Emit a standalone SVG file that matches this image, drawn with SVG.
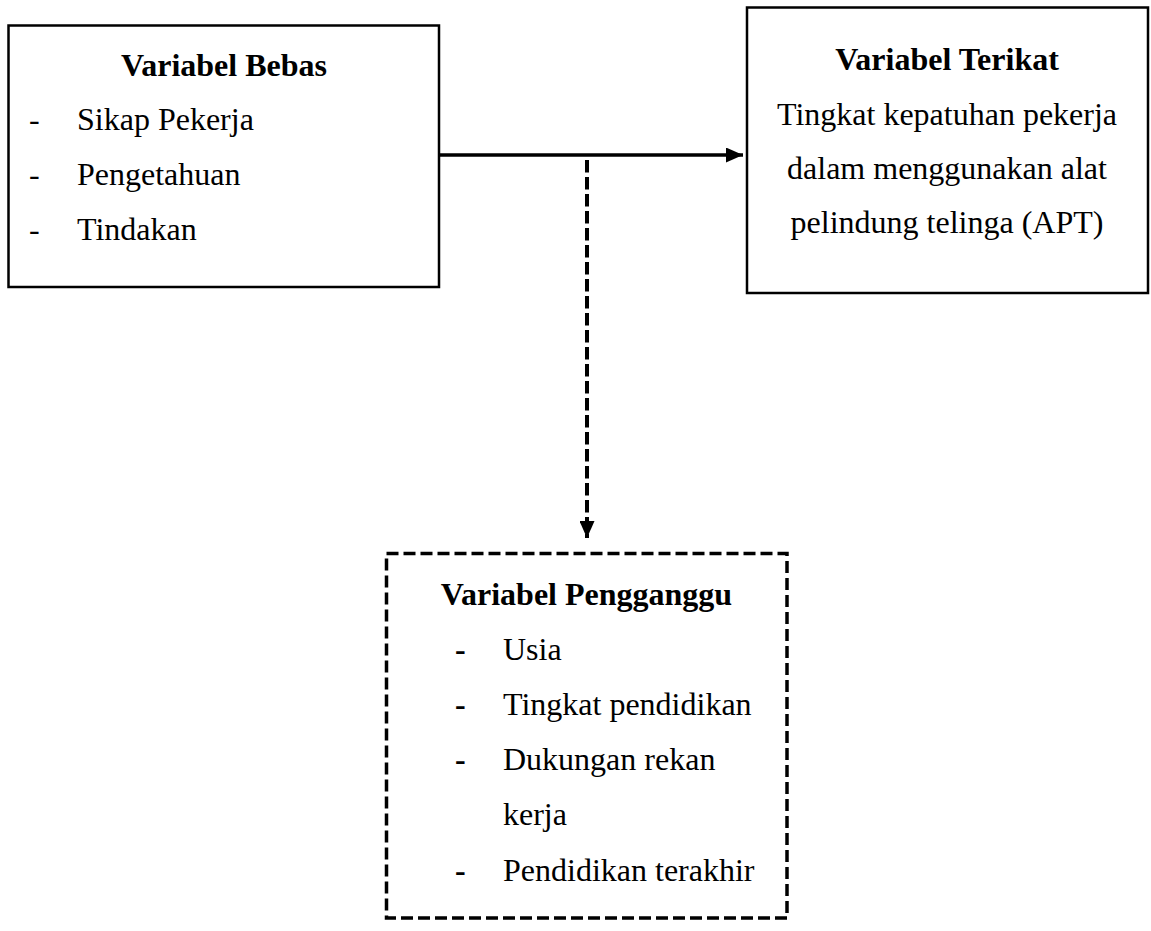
<svg xmlns="http://www.w3.org/2000/svg" width="1151" height="931" viewBox="0 0 1151 931">
<style>
text{font-family:"Liberation Serif","Times New Roman",serif;font-size:32px;fill:#000}
.b{font-weight:bold}
.m{text-anchor:middle}
.box{fill:#fff;stroke:#000;stroke-width:2.5}
.dbox{fill:#fff;stroke:#000;stroke-width:3.5;stroke-dasharray:12 5}
</style>
<defs>
<marker id="ah" viewBox="0 0 17 15" refX="17" refY="7.5" markerWidth="17" markerHeight="15" markerUnits="userSpaceOnUse" orient="auto">
<path d="M0,0 L17,7.5 L0,15 Z" fill="#000"/>
</marker>
</defs>
<g id="bebas">
<rect class="box" x="8.5" y="25.5" width="430.5" height="261.5"/>
<text class="b m" x="224" y="76">Variabel Bebas</text>
<text x="29" y="130">-</text><text x="77" y="130">Sikap Pekerja</text>
<text x="29" y="185">-</text><text x="77" y="185">Pengetahuan</text>
<text x="29" y="240">-</text><text x="77" y="240">Tindakan</text>
</g>
<g id="terikat">
<rect class="box" x="747" y="7.5" width="401" height="285.5"/>
<text class="b m" x="947" y="70">Variabel Terikat</text>
<text class="m" x="947" y="125">Tingkat kepatuhan pekerja</text>
<text class="m" x="947" y="179">dalam menggunakan alat</text>
<text class="m" x="947" y="233">pelindung telinga (APT)</text>
</g>
<g id="pengganggu">
<rect class="dbox" x="386.5" y="553.5" width="400.5" height="364.5"/>
<text class="b m" x="586.5" y="605">Variabel Pengganggu</text>
<text class="b" x="455" y="660">-</text><text x="503" y="660">Usia</text>
<text class="b" x="455" y="715">-</text><text x="503" y="715">Tingkat pendidikan</text>
<text class="b" x="455" y="770">-</text><text x="503" y="770">Dukungan rekan</text>
<text x="503" y="825">kerja</text>
<text class="b" x="455" y="881">-</text><text x="503" y="881">Pendidikan terakhir</text>
</g>
<g id="connectors">
<line x1="440" y1="155" x2="743" y2="155" stroke="#000" stroke-width="3.5" marker-end="url(#ah)"/>
<line x1="587" y1="160" x2="587" y2="538" stroke="#000" stroke-width="4" stroke-dasharray="12.5 4.5" marker-end="url(#ah)"/>
</g>
</svg>
